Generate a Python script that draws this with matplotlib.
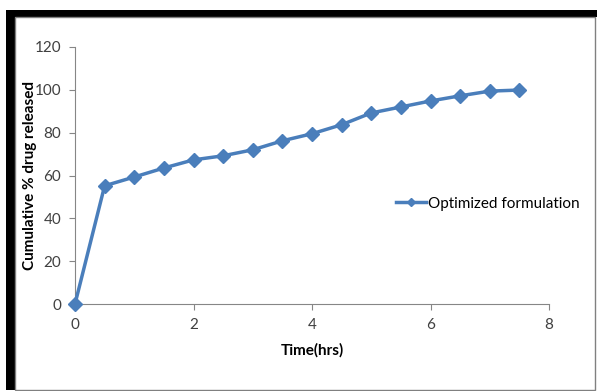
import matplotlib.pyplot as plt
from matplotlib.patches import Rectangle

time_hrs = [0, 0.5, 1, 1.5, 2, 2.5, 3, 3.5, 4, 4.5, 5, 5.5, 6, 6.5, 7, 7.5]
released = [0, 55.2, 59.3, 63.5, 67.3, 69.2, 72.0, 76.2, 79.5, 83.7, 89.2, 92.0, 94.8, 97.2, 99.4, 99.9]
series_name = "Optimized formulation"
xticks = [0, 2, 4, 6, 8]
yticks = [0, 20, 40, 60, 80, 100, 120]

plt.rcParams['font.family'] = ['Lato', 'DejaVu Sans']

W, H = 597, 391
fig = plt.figure(figsize=(W / 100, H / 100), dpi=100)

# frame: thick black on top/left, thin gray on right/bottom
fig.patches.append(Rectangle((6 / W, 1 - 17 / H), 591 / W, 7 / H, transform=fig.transFigure,
                             facecolor="black", edgecolor="none"))
fig.patches.append(Rectangle((6 / W, 1 - 390 / H), 9 / W, 380 / H, transform=fig.transFigure,
                             facecolor="black", edgecolor="none"))
fig.patches.append(Rectangle((15 / W, 1 - 390 / H), 580 / W, 373 / H, transform=fig.transFigure,
                             facecolor="none", edgecolor="#808080", linewidth=1))

ax = fig.add_axes([75 / W, 1 - 304 / H, (549 - 75) / W, (304 - 47) / H])
ax.plot(time_hrs, released, color="#4A7EBB", linewidth=2.5, marker="D", markersize=7.5,
        label=series_name, clip_on=False, zorder=3)

ax.set_xlim(0, 8)
ax.set_ylim(0, 120)
ax.set_xticks(xticks)
ax.set_yticks(yticks)
for s in ["top", "right"]:
    ax.spines[s].set_visible(False)
for s in ["left", "bottom"]:
    ax.spines[s].set_color("#868686")
ax.tick_params(colors="#868686", labelcolor="#404040", labelsize=11, length=4, pad=6)

ax.set_xlabel("Time(hrs)", fontsize=11, fontweight="bold", labelpad=8)
ax.set_ylabel("Cumulative % drug released", fontsize=11, fontweight="bold")
ax.yaxis.set_label_coords(-0.08, 0.5)

ax.legend(loc="center left", bbox_to_anchor=(0.648, 0.39), frameon=False, fontsize=11,
          handlelength=2.0, handletextpad=0.1, markerscale=0.6)

fig.savefig("out.png", dpi=100)
